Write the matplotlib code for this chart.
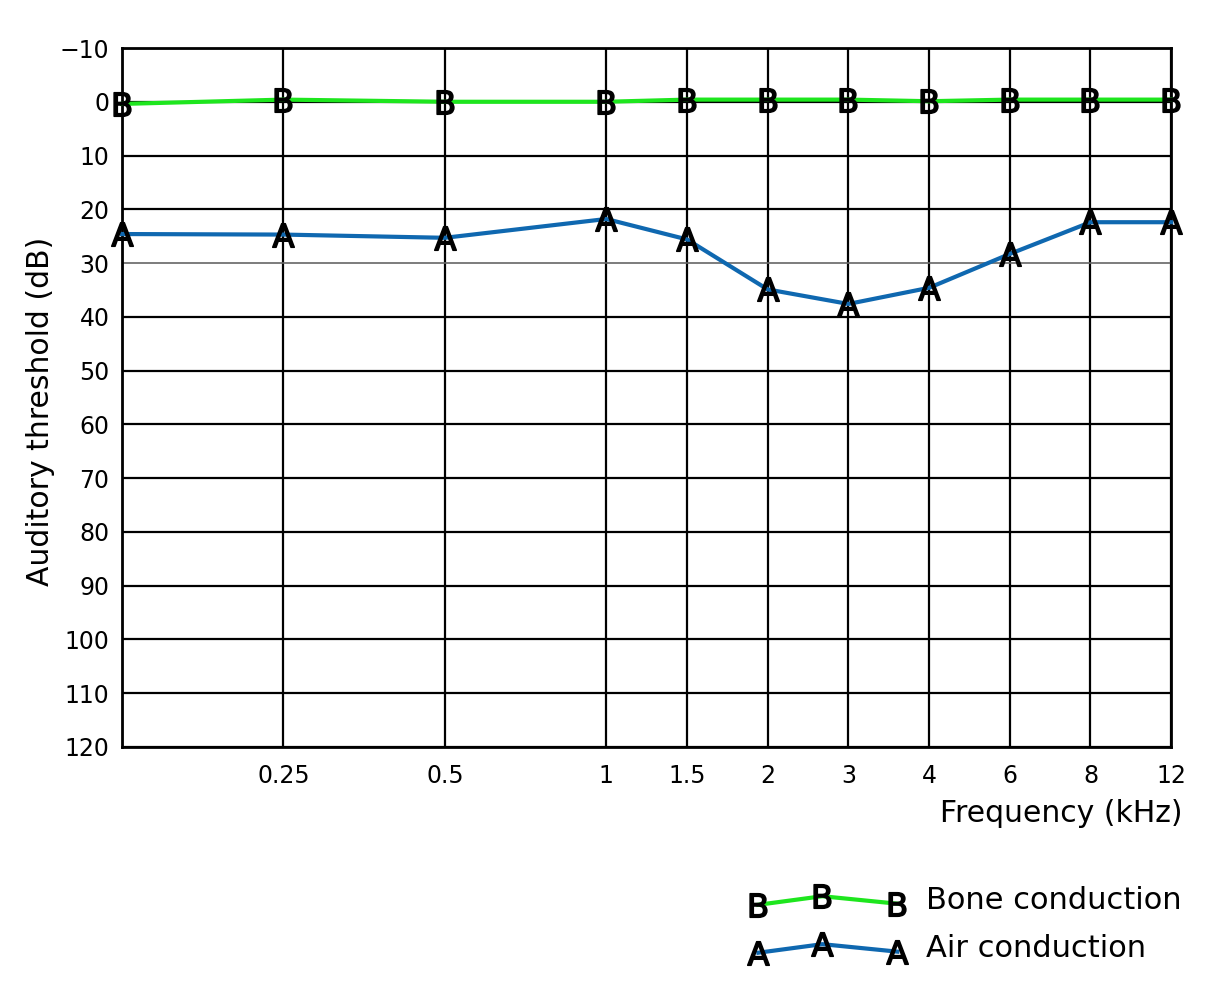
import matplotlib
matplotlib.use("Agg")
import matplotlib.pyplot as plt
from matplotlib.lines import Line2D
from matplotlib.legend_handler import HandlerBase

# audiogram values
freq_labels = ["", "0.25", "0.5", "1", "1.5", "2", "3", "4", "6", "8", "12"]
freq_pos = [0, 2, 4, 6, 7, 8, 9, 10, 11, 12, 13]   # audiogram column spacing
bone = [0.4, -0.4, 0.0, 0.0, -0.4, -0.4, -0.4, -0.1, -0.4, -0.4, -0.4]
air = [24.6, 24.7, 25.3, 21.8, 25.6, 34.9, 37.6, 34.6, 28.3, 22.4, 22.4]
db_ticks = list(range(-10, 121, 10))

green = "#1ee61e"
blue = "#0f68b0"

plt.rcParams["font.family"] = ["DejaVu Sans"]


class ZigzagHandler(HandlerBase):
    def create_artists(self, legend, orig, xdescent, ydescent, width, height,
                       fontsize, trans):
        xs = [-xdescent, -xdescent + width * 0.46, -xdescent + width]
        ys = [height * 0.2, height * 0.6, height * 0.25]
        ln = Line2D(xs, ys, color=orig.get_color(), lw=orig.get_linewidth(),
                    marker=orig.get_marker(), markersize=orig.get_markersize(),
                    markerfacecolor="k", markeredgecolor="k",
                    markeredgewidth=orig.get_markeredgewidth())
        ln.set_transform(trans)
        return [ln]


fig = plt.figure(figsize=(12.3, 10), dpi=100)
ax = fig.add_axes([0.0992, 0.253, 0.853, 0.699])

bl, = ax.plot(freq_pos, bone, color=green, lw=3, marker=r"$\mathsf{B}$",
              markersize=17, markerfacecolor="k", markeredgecolor="k",
              markeredgewidth=1.1, zorder=4, clip_on=False,
              label="Bone conduction")
al, = ax.plot(freq_pos, air, color=blue, lw=3, marker=r"$\mathsf{A}$",
              markersize=17, markerfacecolor="k", markeredgecolor="k",
              markeredgewidth=1.1, zorder=4, clip_on=False,
              label="Air conduction")

ax.set_xlim(freq_pos[0], freq_pos[-1])
ax.set_ylim(db_ticks[-1], db_ticks[0])
ax.set_xticks(freq_pos)
ax.set_xticklabels(freq_labels)
ax.set_yticks(db_ticks)
ax.tick_params(length=0, labelsize=17, pad=9)
ax.tick_params(axis="x", pad=12)
ax.grid(True, color="k", lw=1.6)
ax.get_ygridlines()[4].set_color("#666666")
ax.get_ygridlines()[4].set_linewidth(1.2)
for s in ax.spines.values():
    s.set_linewidth(2)

ax.set_ylabel("Auditory threshold (dB)", fontsize=21.5)
ax.yaxis.set_label_coords(-0.064, 0.48)
fig.text(0.961, 0.187, "Frequency (kHz)", fontsize=21.5, ha="right", va="center")

fig.legend(handles=[bl, al], handler_map={Line2D: ZigzagHandler()},
           loc="lower right", bbox_to_anchor=(0.961, 0.037), frameon=False,
           fontsize=22, handlelength=4.55, handletextpad=0.95, labelspacing=0.62,
           borderpad=0, borderaxespad=0)

fig.savefig("out.png", dpi=100)
